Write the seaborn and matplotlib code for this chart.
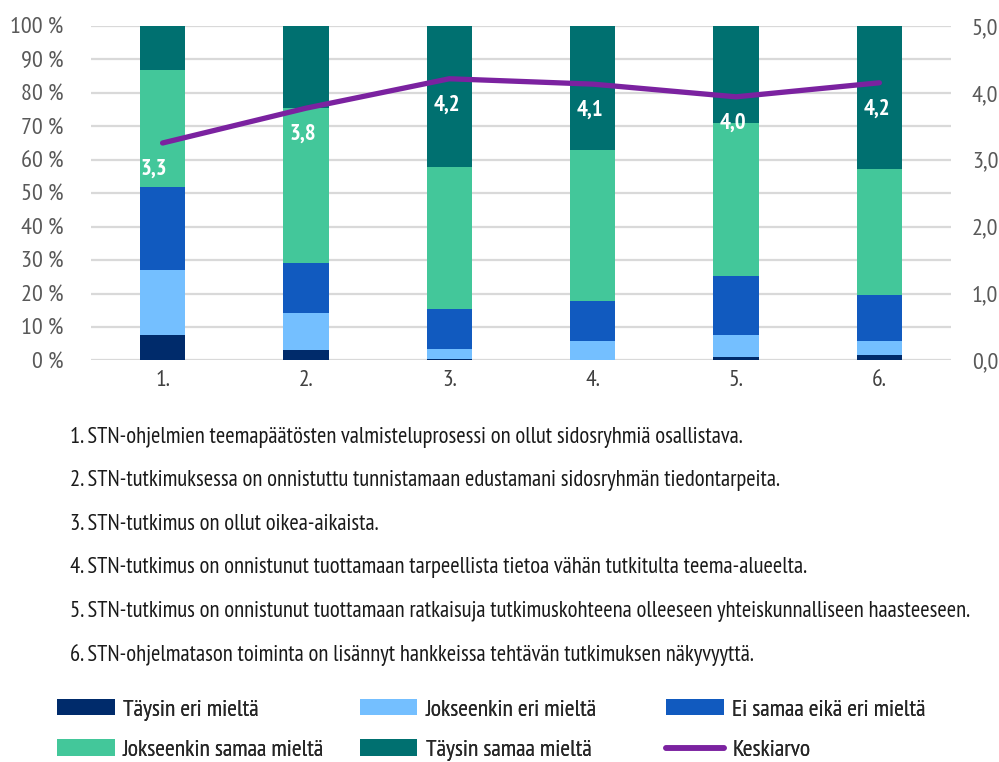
import numpy as np
import pandas as pd
import matplotlib
matplotlib.use("Agg")
import matplotlib.pyplot as plt
import seaborn as sns
from matplotlib.patches import Patch
from matplotlib.lines import Line2D

# ==========================
# Data
# ==========================

categories = ["1.", "2.", "3.", "4.", "5.", "6."]

taysin_eri = [7.5, 3.1, 0.5, 0.0, 1.1, 1.5]
jokseenkin_eri = [19.4, 11.2, 3.0, 5.9, 6.6, 4.2]
ei_samaa_eika_eri = [25.0, 14.8, 11.9, 11.9, 17.6, 14.0]
jokseenkin_samaa = [34.8, 46.5, 42.3, 45.1, 45.7, 37.5]
taysin_samaa = [13.3, 24.4, 42.3, 37.1, 29.0, 42.8]

keskiarvo = [3.25, 3.77, 4.21, 4.13, 3.94, 4.15]
keskiarvo_labels = ["3,3", "3,8", "4,2", "4,1", "4,0", "4,2"]

series_names = ["Täysin eri mieltä", "Jokseenkin eri mieltä", "Ei samaa eikä eri mieltä",
                "Jokseenkin samaa mieltä", "Täysin samaa mieltä"]
series_colors = ["#002B6B", "#74BFFF", "#115ABF", "#43C79A", "#007070"]
line_color = "#7B22A0"

statements = [
    "1. STN-ohjelmien teemapäätösten valmisteluprosessi on ollut sidosryhmiä osallistava.",
    "2. STN-tutkimuksessa on onnistuttu tunnistamaan edustamani sidosryhmän tiedontarpeita.",
    "3. STN-tutkimus on ollut oikea-aikaista.",
    "4. STN-tutkimus on onnistunut tuottamaan tarpeellista tietoa vähän tutkitulta teema-alueelta.",
    "5. STN-tutkimus on onnistunut tuottamaan ratkaisuja tutkimuskohteena olleeseen yhteiskunnalliseen haasteeseen.",
    "6. STN-ohjelmatason toiminta on lisännyt hankkeissa tehtävän tutkimuksen näkyvyyttä.",
]

# ==========================
# Style
# ==========================

sns.set_style("white")
plt.rcParams["font.family"] = ["PT Sans Narrow", "DejaVu Sans"]

df = pd.DataFrame({
    "kysymys": categories,
    series_names[0]: taysin_eri,
    series_names[1]: jokseenkin_eri,
    series_names[2]: ei_samaa_eika_eri,
    series_names[3]: jokseenkin_samaa,
    series_names[4]: taysin_samaa,
})
cum = df[series_names].cumsum(axis=1)

fig = plt.figure(figsize=(9.99, 7.62), dpi=100)
ax = fig.add_axes([0.091, 0.527, 0.861, 0.439])

# draw cumulative totals from the top layer down so the stack shows
for name, color in reversed(list(zip(series_names, series_colors))):
    sns.barplot(x=df["kysymys"], y=cum[name], color=color, width=0.315,
                linewidth=0, saturation=1, ax=ax, zorder=3)

ax.set_ylim(0, 100)
ax.set_xlim(-0.5, 5.5)
ax.set_yticks(np.arange(0, 101, 10))
ax.set_yticklabels([f"{v} %" for v in range(0, 101, 10)])
ax.yaxis.grid(True, color="#d9d9d9", linewidth=1.6, zorder=0)
ax.set_axisbelow(True)
ax.set_xlabel("")
ax.set_ylabel("")
for s in ax.spines.values():
    s.set_visible(False)
ax.tick_params(axis="y", length=0, labelsize=17.5, colors="#595959", pad=20)
ax.tick_params(axis="x", length=0, labelsize=17, colors="#404040", pad=7)

ax2 = ax.twinx()
sns.lineplot(x=np.arange(len(categories)), y=keskiarvo, color=line_color,
             linewidth=3.8, ax=ax2, zorder=5)
ax2.set_ylim(0, 5)
ax2.set_yticks(np.arange(0, 5.1, 1))
ax2.set_yticklabels([f"{v:.1f}".replace(".", ",") for v in np.arange(0, 5.1, 1)])
for s in ax2.spines.values():
    s.set_visible(False)
ax2.tick_params(axis="y", length=0, labelsize=17.5, colors="#595959", pad=15)
ax2.set_xlim(-0.5, 5.5)

for i, (v, lab) in enumerate(zip(keskiarvo, keskiarvo_labels)):
    dx = -6 if i == 0 else -2
    ax2.annotate(lab, xy=(i, v), xytext=(dx, -19), textcoords="offset points",
                 ha="center", va="center", color="white", fontsize=16.5,
                 fontweight="bold", zorder=6)

# ==========================
# Statements
# ==========================

y0 = 1 - 437 / 762
for k, txt in enumerate(statements):
    fig.text(0.070, y0 - k * (43.6 / 762), txt, fontsize=16.3, color="#1a1a1a",
             ha="left", va="center")

# ==========================
# Legend (three columns placed separately)
# ==========================

handles = [Patch(facecolor=c, edgecolor="none") for c in series_colors]
handles.append(Line2D([0], [0], color=line_color, linewidth=4,
                      solid_capstyle="round"))
labels = series_names + ["Keskiarvo"]
columns = [([0, 3], 0.057), ([1, 4], 0.360), ([2, 5], 0.667)]
for idx, xpos in columns:
    leg = fig.legend([handles[i] for i in idx], [labels[i] for i in idx],
                     loc="center left", bbox_to_anchor=(xpos, 0.042),
                     frameon=False, fontsize=17, handlelength=2.45,
                     handleheight=0.68, labelspacing=0.8, handletextpad=0.35,
                     borderaxespad=0, borderpad=0)
    fig.add_artist(leg)

plt.savefig("out.png", dpi=100)
